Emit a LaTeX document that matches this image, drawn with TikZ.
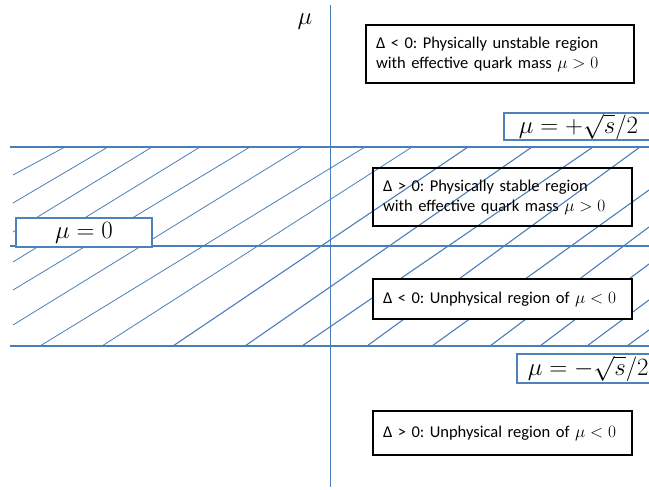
\documentclass[tikz,border=0pt]{standalone}
\usepackage{fontspec}
\setmainfont{Carlito}
\frenchspacing
\definecolor{lineblue}{HTML}{4A7EBB}
\definecolor{boxblue}{HTML}{4F81BD}
\begin{document}
\begin{tikzpicture}[x=1pt,y=-1pt,
  hatch/.style={lineblue, line width=0.8pt},
  hline/.style={lineblue, line width=1.3pt},
  axisline/.style={lineblue, line width=0.9pt},
  blackbox/.style={draw=black, line width=1.6pt, inner xsep=10pt, inner ysep=0pt,
    font=\fontsize{16.5}{20}\selectfont, align=left},
  bluebox/.style={draw=boxblue, line width=1.6pt, fill=white, inner ysep=0pt,
    font=\fontsize{23}{24}\selectfont, align=left}]
\useasboundingbox (0,0) rectangle (649,490);

% hatch lines
\begin{scope}
\clip (13,147) rectangle (649,346);
\draw[hatch] (13,175)--(65,147);
\draw[hatch] (13,203)--(108,147);
\draw[hatch] (13,232)--(152,147);
\draw[hatch] (13,262)--(200,147);
\draw[hatch] (13,290)--(250,147);
\draw[hatch] (13,325)--(302,147);
\draw[hatch] (40,346)--(365,147);
\draw[hatch] (102,346)--(412,147);
\draw[hatch, line width=1.1pt] (173,346)--(468,147);
\draw[hatch, line width=1.1pt] (245,346)--(532,147);
\draw[hatch, line width=1.1pt] (302,346)--(593,147);
\draw[hatch, line width=1.1pt] (367,346)--(640,147);
\draw[hatch, line width=1.1pt] (432,346)--(649,190);
\draw[hatch, line width=1.1pt] (490,346)--(649,227);
\draw[hatch, line width=1.1pt] (540,346)--(649,264);
\draw[hatch, line width=1.1pt] (587,346)--(649,300);
\draw[hatch, line width=1.1pt] (627,346)--(649,330);
\end{scope}

% horizontal lines
\coordinate (t1) at (10,147); \coordinate (t2) at (649,147);
\coordinate (m1) at (10,246); \coordinate (m2) at (649,246);
\coordinate (b1) at (10,346); \coordinate (b2) at (649,346);
\draw[hline] (t1)--(t2);
\draw[hline] (m1)--(m2);
\draw[hline] (b1)--(b2);

% vertical axis
\coordinate (ax1) at (330,5); \coordinate (ax2) at (330,487);
\draw[axisline] (ax1)--(ax2);
\node[font=\fontsize{23}{24}\selectfont] (mulabel) at (305,22) {$\mu$};

% blue boxes
\node[bluebox, minimum width=136pt, minimum height=29pt, align=center] (mu0) at (84,232.5) {$\mu=0$};
\node[bluebox, anchor=west, text width=137pt, inner xsep=15pt, minimum height=27pt] (mupos) at (503,126.5) {$\mu=+\sqrt{s}/2$};
\node[bluebox, anchor=west, text width=140pt, inner xsep=11pt, minimum height=29pt] (muneg) at (516,368.5) {$\mu=-\sqrt{s}/2$};

% black boxes
\node[blackbox, text width=248pt, minimum height=58pt, fill=white] (boxA) at (500,54)
  {Δ < 0: Physically unstable region\\with effective quark mass $\mu>0$};
\node[blackbox, text width=239pt, minimum height=58pt] (boxB) at (502.5,197)
  {Δ > 0: Physically stable region\\with effective quark mass $\mu>0$};
\node[blackbox, text width=239pt, minimum height=40pt, fill=white] (boxC) at (502.5,299)
  {Δ < 0: Unphysical region of $\mu<0$};
\node[blackbox, text width=239pt, minimum height=44pt, fill=white] (boxD) at (502.5,433)
  {Δ > 0: Unphysical region of $\mu<0$};
\end{tikzpicture}
\end{document}
